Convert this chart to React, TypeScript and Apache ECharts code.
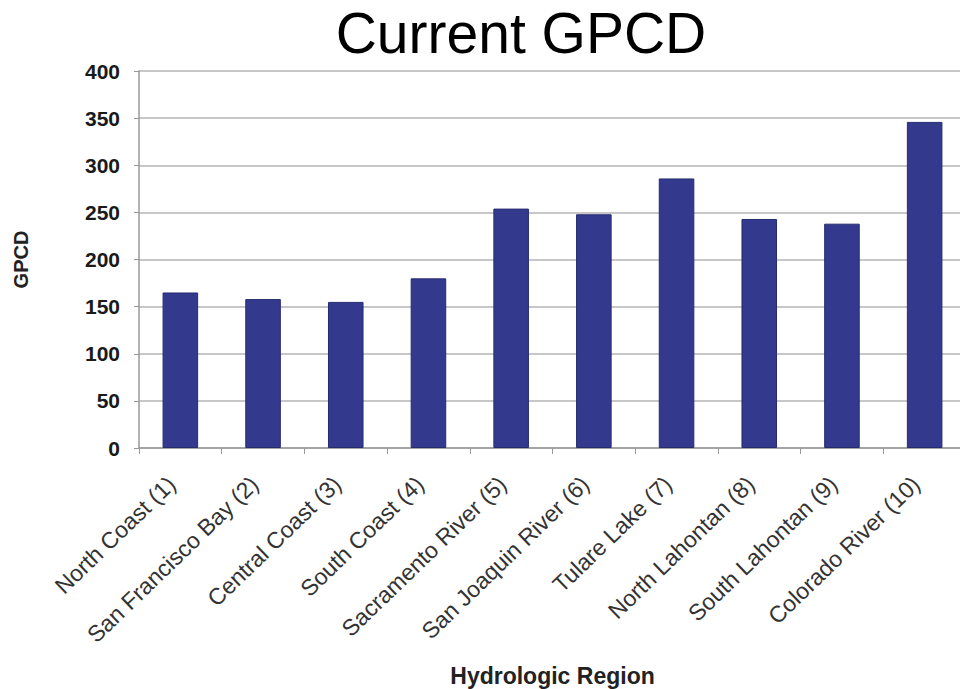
import React, { useEffect, useRef } from "react";
import * as echarts from "echarts";

const categories = [
  "North Coast (1)",
  "San Francisco Bay (2)",
  "Central Coast (3)",
  "South Coast (4)",
  "Sacramento River (5)",
  "San Joaquin River (6)",
  "Tulare Lake (7)",
  "North Lahontan (8)",
  "South Lahontan (9)",
  "Colorado River (10)",
];
const gpcdValues = [165, 158, 155, 180, 254, 248, 286, 243, 238, 346];
const yTicks = { min: 0, max: 400, interval: 50 };

export default function App() {
  const ref = useRef<HTMLDivElement>(null);
  useEffect(() => {
    if (!ref.current) return;
    const chart = echarts.init(ref.current, null, { renderer: "svg" });
    const font = "'Liberation Sans', Arial, sans-serif";
    chart.setOption({
      animation: false,
      backgroundColor: "#ffffff",
      title: {
        text: "Current GPCD",
        left: 516,
        top: -1,
        textAlign: "center",
        textStyle: { fontFamily: font, fontSize: 57, fontWeight: "normal", color: "#000" },
      },
      grid: { left: 139, top: 71, width: 827, height: 377, outerBoundsMode: "none", containLabel: false },
      xAxis: {
        type: "category",
        data: categories,
        name: "Hydrologic Region",
        nameLocation: "middle",
        nameGap: 216,
        nameTextStyle: { fontFamily: font, fontSize: 23, fontWeight: "bold", color: "#222" },
        axisLine: { show: true, lineStyle: { color: "#999", width: 1.5 } },
        axisTick: { show: true, length: 6, lineStyle: { color: "#999" }, alignWithLabel: false },
        axisLabel: {
          rotate: 44,
          margin: 24,
          interval: 0,
          padding: [0, 12, 0, 0],
          fontFamily: font,
          fontSize: 23,
          color: "#333",
        },
      },
      yAxis: {
        type: "value",
        min: yTicks.min,
        max: yTicks.max,
        interval: yTicks.interval,
        name: "GPCD",
        nameLocation: "middle",
        nameGap: 108,
        nameRotate: 90,
        nameTextStyle: { fontFamily: font, fontSize: 20, fontWeight: "bold", color: "#222" },
        axisLine: { show: true, lineStyle: { color: "#999", width: 1.5 } },
        axisTick: { show: true, length: 5, lineStyle: { color: "#999" } },
        axisLabel: { margin: 19, fontFamily: font, fontSize: 21, fontWeight: "bold", color: "#1a1a1a" },
        splitLine: { show: true, lineStyle: { color: "#b4b4b4", width: 1.5 } },
      },
      series: [
        {
          type: "bar",
          data: gpcdValues,
          barWidth: "43%",
          itemStyle: { color: "#333a8e", borderColor: "#262b70", borderWidth: 1 },
        },
      ],
    });
    return () => chart.dispose();
  }, []);
  return (
    <div
      ref={ref}
      style={{ position: "fixed", left: 0, top: 0, width: 960, height: 689 }}
    />
  );
}
